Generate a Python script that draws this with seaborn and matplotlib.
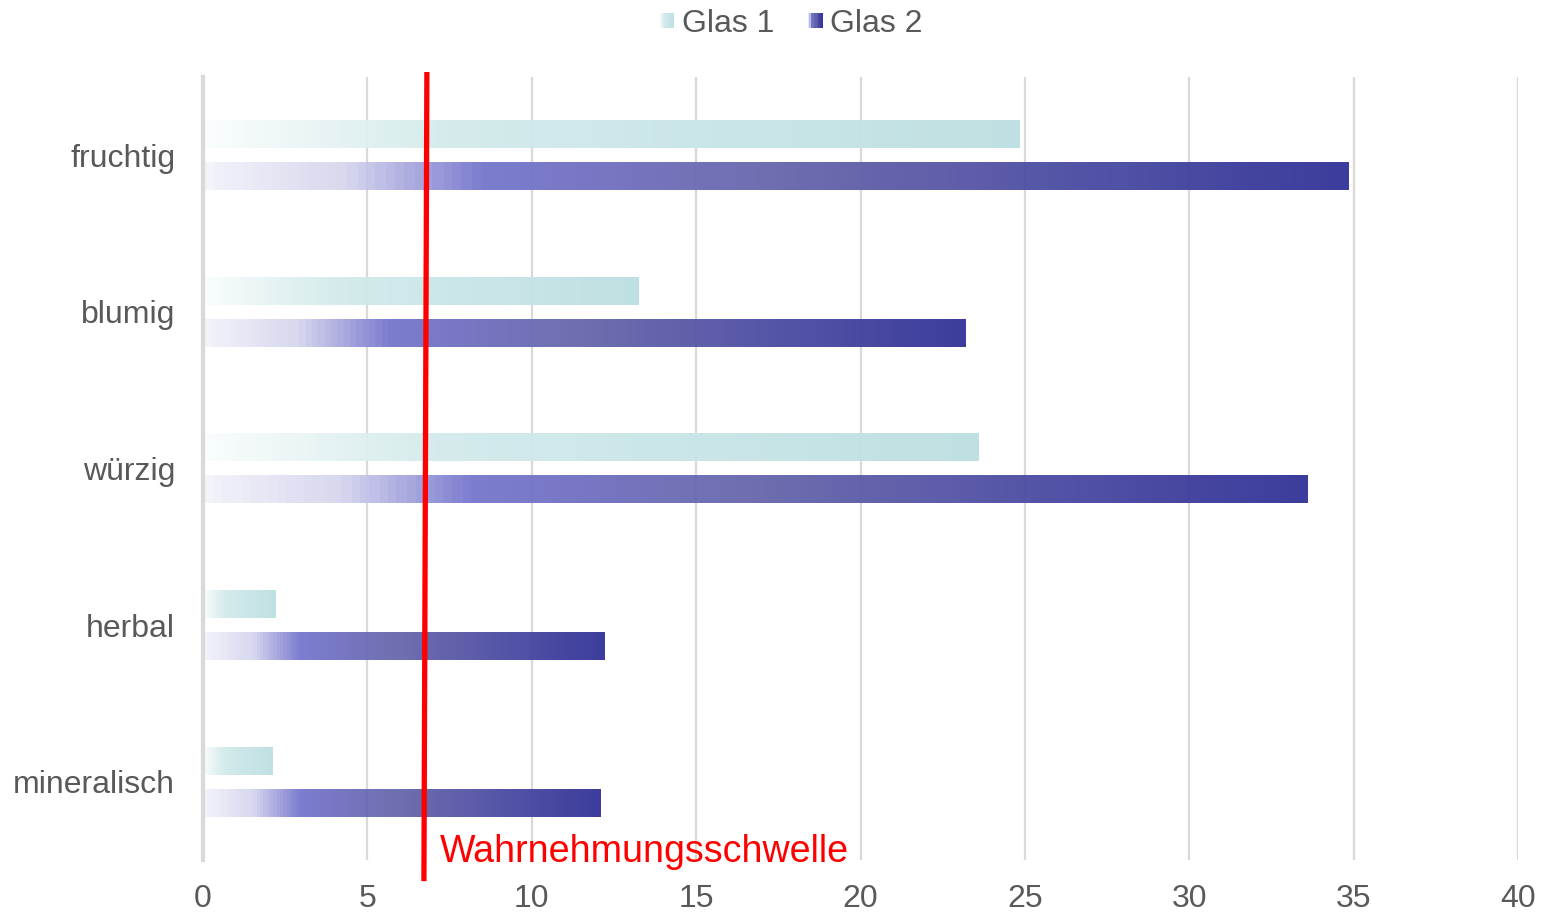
import numpy as np
import pandas as pd
import matplotlib
matplotlib.use("Agg")
import matplotlib.pyplot as plt
import matplotlib.transforms as mtransforms
from matplotlib.colors import LinearSegmentedColormap
from matplotlib.patches import Rectangle
from matplotlib.legend_handler import HandlerBase
import seaborn as sns

# ---- data ----
categories = ["fruchtig", "blumig", "würzig", "herbal", "mineralisch"]
series_names = ["Glas 1", "Glas 2"]
glas1 = [24.85, 13.25, 23.6, 2.2, 2.1]
glas2 = [34.85, 23.2, 33.6, 12.2, 12.1]
threshold = 6.78
threshold_label = "Wahrnehmungsschwelle"
x_ticks = [0, 5, 10, 15, 20, 25, 30, 35, 40]

df = pd.DataFrame({
    "Kategorie": categories * 2,
    "Glas": [series_names[0]] * len(categories) + [series_names[1]] * len(categories),
    "Wert": glas1 + glas2,
})

sns.set_theme(style="white")
plt.rcParams["font.family"] = ["Liberation Sans", "DejaVu Sans"]

grey_txt = "#595959"
grid_col = "#d9d9d9"

cmap1 = LinearSegmentedColormap.from_list(
    "g1", [(0.0, "#fafdfd"), (0.3, "#d3eaeb"), (1.0, "#bcdfe1")], N=120)
cmap2 = LinearSegmentedColormap.from_list(
    "g2", [(0.0, "#f3f3fa"), (0.12, "#d6d6ef"), (0.24, "#7676cd"),
           (0.5, "#6666ac"), (1.0, "#323298")], N=120)
cmaps = [cmap1, cmap2]

fig = plt.figure(figsize=(15.5, 9.16), dpi=100)
ax = fig.add_axes([203 / 1550, 1 - 860 / 916, (1518 - 203) / 1550, (860 - 77) / 916])

sns.barplot(data=df, y="Kategorie", x="Wert", hue="Glas", hue_order=series_names,
            order=categories, orient="h", width=0.536, gap=0.335,
            palette=["#bcdfe1", "#323298"], legend=False, ax=ax, zorder=2)

# replace solid bars by gradient fills
grad = np.linspace(0, 1, 400).reshape(1, -1)
for ci, cont in enumerate(ax.containers):
    for p in cont.patches:
        x0, y0 = p.get_x(), p.get_y()
        w, h = p.get_width(), p.get_height()
        p.set_visible(False)
        ax.imshow(grad, extent=[x0, x0 + w, y0 + h, y0], aspect="auto",
                  cmap=cmaps[ci], interpolation="nearest", zorder=2, alpha=0.95)

ax.set_xlim(0, 40)
ax.set_ylim(4.5, -0.5)
ax.set_xticks(x_ticks)
ax.set_xticklabels([str(t) for t in x_ticks])
ax.set_xlabel("")
ax.set_ylabel("")

# grid
for t in x_ticks[1:]:
    ax.axvline(t, color=grid_col, lw=1.6, zorder=1)
for s in ["top", "right", "bottom"]:
    ax.spines[s].set_visible(False)
ax.spines["left"].set_color(grid_col)
ax.spines["left"].set_linewidth(3)
ax.spines["left"].set_zorder(3)

ax.tick_params(axis="x", length=0, pad=17, labelsize=23, labelcolor=grey_txt)
ax.tick_params(axis="y", length=0, pad=20, labelsize=23, labelcolor=grey_txt)

# threshold line
trans = mtransforms.blended_transform_factory(ax.transData, ax.transAxes)
ax.plot([threshold + 0.03, threshold - 0.06], [1.0064, -0.027], color="#ff0000",
        lw=3.8, transform=trans, clip_on=False, zorder=5, solid_capstyle="butt")
ax.text(threshold + 0.43, -0.003, threshold_label, color="#ff0000", fontsize=27.1,
        transform=trans, va="baseline", ha="left", clip_on=False, zorder=6)

# legend with gradient squares
class GradHandler(HandlerBase):
    def __init__(self, cmap):
        super().__init__()
        self.cmap = cmap

    def create_artists(self, legend, orig_handle, xdescent, ydescent, width,
                       height, fontsize, trans):
        n = 10
        s = 14.5 * 72 / 100.0
        x0 = -xdescent + (width - s)
        y0 = -ydescent + (height - s) / 2
        arts = []
        for i in range(n):
            r = Rectangle((x0 + i * s / n, y0), s / n + 0.1, s,
                          facecolor=self.cmap((i + 0.5) / n), edgecolor="none",
                          transform=trans)
            arts.append(r)
        return arts

h1 = Rectangle((0, 0), 1, 1)
h2 = Rectangle((0, 0), 1, 1)
leg = fig.legend([h1, h2], series_names, loc="center", bbox_to_anchor=(0.51, 1 - 24 / 916),
                 ncol=2, frameon=False, fontsize=23, handlelength=0.5, handleheight=0.6,
                 handletextpad=0.25, columnspacing=1.0,
                 handler_map={h1: GradHandler(cmap1), h2: GradHandler(cmap2)})
for t in leg.get_texts():
    t.set_color(grey_txt)

fig.savefig("out.png", dpi=100)
